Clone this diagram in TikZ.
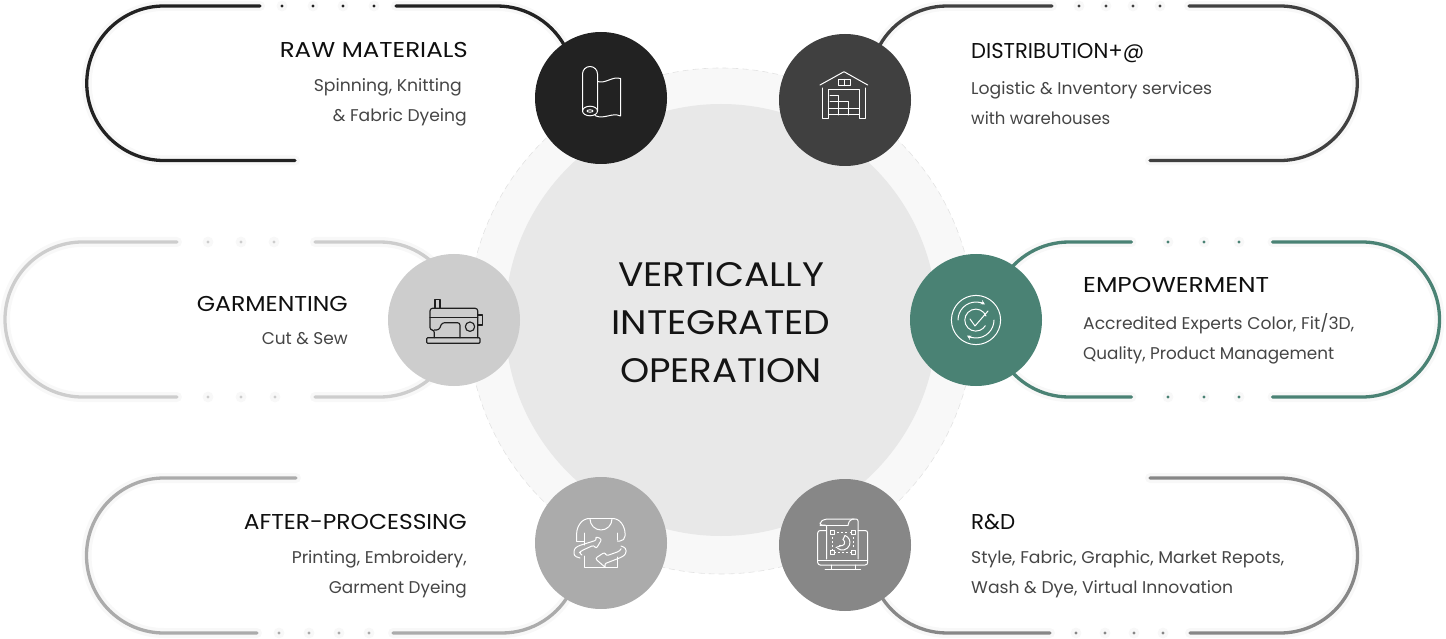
\documentclass[tikz,border=0pt]{standalone}
\usepackage{fontspec}
\setmainfont{Poppins}
\usetikzlibrary{arrows.meta}
\definecolor{cRaw}{HTML}{222222}
\definecolor{cDist}{HTML}{404040}
\definecolor{cGarm}{HTML}{CDCDCD}
\definecolor{cEmp}{HTML}{4A8274}
\definecolor{cAft}{HTML}{ABABAB}
\definecolor{cRnd}{HTML}{878787}
\definecolor{halo}{HTML}{F8F8F8}
\definecolor{bodytxt}{HTML}{454545}
\newcommand{\fitw}[2]{\resizebox{#1pt}{\height}{#2}}
\newcommand{\pillpath}[2]{%
  \draw[halo,line width=10pt,line cap=round] #2;
  \draw[#1,line width=3.3pt,line cap=round] #2;}
\newcommand{\pilldots}[3]{%
  \foreach \dx in {#3}{
    \fill[halo] (\dx,#2) circle[radius=5.5pt];
    \fill[#1] (\dx,#2) circle[radius=1.7pt];}}
\tikzset{
  x=1pt,y=-1pt,
  hub/.style={circle,minimum size=132pt,inner sep=0pt},
  hd/.style={font=\fontsize{21.5}{24}\selectfont,text=black!94,inner sep=0pt},
  bd/.style={font=\fontsize{17}{20}\selectfont,text=bodytxt,inner sep=0pt},
  ctr/.style={font=\fontsize{34}{38}\selectfont,text=black!92,inner sep=0pt,anchor=base},
  ic/.style={draw=white,line width=1pt,line join=round,line cap=round},
  icd/.style={draw=black!88,line width=1.15pt,line join=round,line cap=round}
}
\begin{document}
\begin{tikzpicture}
\useasboundingbox (0,0) rectangle (1446,639);
% centre discs
\node[circle,fill=halo,draw=black!11,dash pattern=on 6pt off 4pt,line width=.6pt,minimum size=506pt,inner sep=0pt] (outer) at (721,321) {};
\node[circle,fill=black!9,minimum size=432pt,inner sep=0pt] (inner) at (721,320) {};
% RAW
\pillpath{cRaw}{(295,160.5) -- (164,160.5) arc[start angle=90,end angle=270,radius=77.25] -- (260,6)}
\pillpath{cRaw}{(396,6) -- (497,6) arc[start angle=-90,end angle=-25,radius=77.25]}
\pilldots{cRaw}{6}{282,313,343,374}
% DIST
\pillpath{cDist}{(1150,160.5) -- (1280,160.5) arc[start angle=90,end angle=-90,radius=77.25] -- (1189,6)}
\pillpath{cDist}{(1052,6) -- (947,6) arc[start angle=-90,end angle=-155,radius=77.25]}
\pilldots{cDist}{6}{1079,1106,1133,1160}
% GARM
\pillpath{cGarm}{(177,242) -- (82.5,242) arc[start angle=-90,end angle=-270,radius=77.5] -- (177,397)}
\pillpath{cGarm}{(315,242) -- (380,242) arc[start angle=-90,end angle=-30,radius=77.5]}
\pillpath{cGarm}{(315,397) -- (380,397) arc[start angle=90,end angle=30,radius=77.5]}
\pilldots{cGarm}{242}{208,241,274}
\pilldots{cGarm}{397}{208,241,275}
% EMP
\pillpath{cEmp}{(1272.5,242) -- (1362,242) arc[start angle=-90,end angle=90,radius=77.5] -- (1272.5,397)}
\pillpath{cEmp}{(1131.5,242) -- (1069,242) arc[start angle=-90,end angle=-150,radius=77.5]}
\pillpath{cEmp}{(1131.5,397) -- (1069,397) arc[start angle=90,end angle=150,radius=77.5]}
\pilldots{cEmp}{242}{1168,1204,1239}
\pilldots{cEmp}{397}{1168,1204,1239}
% AFTER
\pillpath{cAft}{(296,478) -- (164,478) arc[start angle=-90,end angle=-270,radius=77.5] -- (257,633)}
\pillpath{cAft}{(393,633) -- (502,633) arc[start angle=90,end angle=25,radius=77.5]}
\pilldots{cAft}{633}{279,309,339,369}
% RND
\pillpath{cRnd}{(1150,478) -- (1280,478) arc[start angle=-90,end angle=90,radius=77.5] -- (1190,633)}
\pillpath{cRnd}{(1050,633) -- (947,633) arc[start angle=90,end angle=155,radius=77.5]}
\pilldots{cRnd}{633}{1076,1105,1134,1163}
% hubs
\node[hub,fill=cRaw] (raw) at (601,98) {};
\node[hub,fill=cDist] (dist) at (845,100) {};
\node[hub,fill=cGarm] (garm) at (454,320) {};
\node[hub,fill=cEmp] (emp) at (976,320) {};
\node[hub,fill=cAft] (aft) at (601,543) {};
\node[hub,fill=cRnd] (rnd) at (845,545) {};
% icon: fabric roll
\draw[ic] (582.5,111) -- (582.5,74) arc[start angle=180,end angle=360,radius=7.5] -- (597.5,111);
\draw[ic] (590,111) ellipse[x radius=7.5,y radius=4.8];
\draw[ic,line width=.9pt] (590,111) ellipse[x radius=3,y radius=1.2];
\draw[ic] (597.5,81.5) .. controls (606,84) and (612,76) .. (620.5,78.5) -- (620.5,116) .. controls (612,112) and (604,120) .. (595,115.6);
% icon: warehouse
\draw[ic] (820,85) -- (844,71.7) -- (867.7,85);
\draw[ic] (838.3,79.3) rectangle (850,85.7);
\draw[ic] (844,79.3) -- (844,85.7);
\draw[ic] (822.3,88) -- (822.3,118.3) -- (828.3,118.3) -- (828.3,90) -- (859.3,90) -- (859.3,118.3) -- (865,118.3) -- (865,88);
\draw[ic] (830,95.7) -- (838.5,95.7) -- (838.5,101.5) -- (848.5,101.5) -- (848.5,108.5);
\draw[ic] (830,101.5) -- (838.5,101.5);
\draw[ic] (828.3,108.5) -- (859.3,108.5);
\draw[ic] (828.3,115) -- (859.3,115);
\draw[ic] (838.5,101.5) -- (838.5,115);
\draw[ic] (848.5,108.5) -- (848.5,115);
% icon: sewing machine
\draw[icd,rounded corners=1pt] (426.7,337.7) rectangle (480,343.3);
\draw[icd,rounded corners=2.5pt] (434.3,337.7) -- (434.3,330) -- (430,330) -- (430,308.3) -- (477.7,308.3) -- (477.7,337.7);
\draw[icd] (430,317.3) -- (477.7,317.3);
\draw[icd,rounded corners=2.5pt] (434.3,330) -- (439,330) -- (442,322.7) -- (460,322.7) -- (460,337.7);
\draw[icd] (470,326.7) circle[radius=4.7];
\draw[icd] (477.7,315) rectangle (482.3,325);
\draw[icd] (435,299.3) rectangle (440,308.3);
% icon: check
\draw[ic] (976,320) circle[radius=24.6];
\draw[ic,-{Stealth[length=4.5pt,width=4.5pt]}] (958,320) arc[start angle=180,end angle=300,radius=18];
\draw[ic,-{Stealth[length=4.5pt,width=4.5pt]}] (994,320) arc[start angle=0,end angle=120,radius=18];
\draw[ic] (986,316) arc[start angle=-22,end angle=-330,radius=11];
\draw[ic] (970,319) -- (975,326) -- (988,311);
% icon: tee
\draw[ic] (590,519) arc[start angle=180,end angle=0,radius=11] ;
\draw[ic,rounded corners=5pt] (590,518.5) -- (584,518.5) -- (576.7,528) -- (576.7,541);
\draw[ic] (576.7,541) -- (584.3,541);
\draw[ic] (584.3,533) -- (584.3,545);
\draw[ic] (584.3,556) -- (584.3,567.5) -- (617.3,567.5) -- (617.3,557);
\draw[ic] (617.3,533) -- (617.3,540);
\draw[ic,rounded corners=5pt] (612,518.5) -- (618,518.5) -- (625,528) -- (625,541) -- (617.3,541);
\draw[ic] (590,518.5) -- (612,518.5);
\draw[ic,rounded corners=2.5pt] (580,558) -- (574,556) -- (574,549) -- (578,546) -- (597,540) -- (595,536.5) -- (602,539) -- (596,549) -- (594,545) -- (581,551) -- (579,553) -- (582,555);
\draw[ic,rounded corners=2.5pt] (621,546) -- (626,548) -- (626,554) -- (622,557) -- (604,564) -- (606,568) -- (595,558.5) -- (605,552) -- (606,556) -- (620,551) -- (621,549);
% icon: monitor
\draw[ic,rounded corners=2.5pt] (826,530.5) -- (817.7,530.5) -- (817.7,565) -- (867.7,565) -- (867.7,530.5) -- (858,530.5);
\draw[ic] (817.7,560) -- (867.7,560);
\draw[ic] (831.7,565) -- (831.7,569);
\draw[ic] (855,565) -- (855,569);
\draw[ic] (825,569) -- (860.7,569);
\draw[ic,rounded corners=2pt] (826.7,559) -- (826.7,525) -- (820,525) -- (820,522) -- (825,519) -- (858,519) -- (858,559);
\draw[ic] (820,525) -- (848,525);
\draw[ic,rounded corners=2pt] (848,525) -- (850,519.5) -- (854,519);
\draw[ic,dash pattern=on 2pt off 2.2pt,line cap=butt] (832.5,532.5) rectangle (853.5,552.5);
\foreach \sx/\sy in {832.5/532.5,853.5/532.5,832.5/552.5,853.5/552.5}{
  \fill[cRnd] (\sx-2,\sy-2) rectangle (\sx+2,\sy+2);
  \draw[ic,line width=1pt] (\sx-2,\sy-2) rectangle (\sx+2,\sy+2);}
\draw[ic] (845,535.5) arc[start angle=-70,end angle=130,radius=7.5];
\draw[ic] (843,539.5) arc[start angle=-60,end angle=120,radius=3.4];
\draw[ic] (845,535.5) -- (843,539.5);
\draw[ic] (836,547.5) -- (841.5,545.5);
% texts
\node[ctr] (c1) at (721,286) {\fitw{206}{VERTICALLY}};
\node[ctr] (c2) at (721,334) {\fitw{219}{INTEGRATED}};
\node[ctr] (c3) at (721,382) {\fitw{202}{OPERATION}};
\node[hd,anchor=base east] (t1) at (468,57.7) {\fitw{188}{RAW MATERIALS}};
\node[bd,anchor=base east] (t1a) at (462,91.5) {\fitw{148}{Spinning, Knitting}};
\node[bd,anchor=base east] (t1b) at (467,121.5) {\fitw{134}{\& Fabric Dyeing}};
\node[hd,anchor=base west] (t2) at (971,58.5) {\fitw{173}{DISTRIBUTION+@}};
\node[bd,anchor=base west] (t2a) at (971,95) {\fitw{241}{Logistic \& Inventory services}};
\node[bd,anchor=base west] (t2b) at (971,125) {\fitw{139}{with warehouses}};
\node[hd,anchor=base east] (t3) at (348,311.7) {\fitw{151}{GARMENTING}};
\node[bd,anchor=base east] (t3a) at (348,344) {\fitw{86}{Cut \& Sew}};
\node[hd,anchor=base west] (t4) at (1083,292) {\fitw{186}{EMPOWERMENT}};
\node[bd,anchor=base west] (t4a) at (1083,329) {\fitw{271}{Accredited Experts Color, Fit/3D,}};
\node[bd,anchor=base west] (t4b) at (1083,359) {\fitw{251}{Quality, Product Management}};
\node[hd,anchor=base east] (t5) at (467,529.2) {\fitw{223}{AFTER-PROCESSING}};
\node[bd,anchor=base east] (t5a) at (467,563) {\fitw{175}{Printing, Embroidery,}};
\node[bd,anchor=base east] (t5b) at (467,593) {\fitw{138}{Garment Dyeing}};
\node[hd,anchor=base west] (t6) at (971,529.2) {\fitw{44}{R\&D}};
\node[bd,anchor=base west] (t6a) at (971,563) {\fitw{313}{Style, Fabric, Graphic, Market Repots,}};
\node[bd,anchor=base west] (t6b) at (971,593) {\fitw{262}{Wash \& Dye, Virtual Innovation}};
\end{tikzpicture}
\end{document}
